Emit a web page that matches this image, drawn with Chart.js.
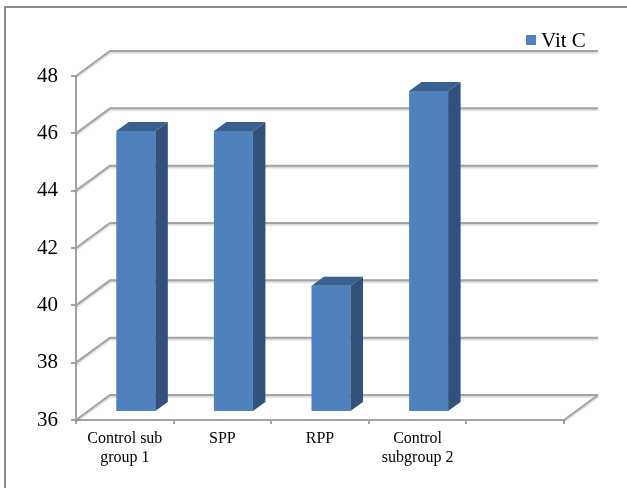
<!DOCTYPE html>
<html><head><meta charset="utf-8">
<script src="https://cdn.jsdelivr.net/npm/chart.js@4"></script>
<style>html,body{margin:0;padding:0;background:#fff;overflow:hidden}#wrap{position:relative;width:627px;height:488px}</style>
</head><body><div id="wrap"><canvas id="c" width="627" height="488"></canvas></div>
<script>
// ---- data ----
const categories = [["Control sub", "group 1"], "SPP", "RPP", ["Control", "subgroup 2"], ""];
const vitC = [45.8, 45.8, 40.4, 47.2, null];
const seriesName = "Vit C";
const yTickValues = [36, 38, 40, 42, 44, 46, 48];

// ---- style ----
const FONT = "'Liberation Serif', 'Times New Roman', 'DejaVu Serif', serif";
Chart.defaults.font.family = FONT;
const DEPTH = {dx: 34, dy: -25};      // wall depth
const BAR_OFF = {dx: 11, dy: -8};     // bar front face position inside depth
const BAR_DEPTH = {dx: 12.5, dy: -9}; // bar thickness in depth
const GRID = '#a3a3a3';
const FRONT = '#4f81bd', SIDE = '#32527c', TOP = '#3a6090';

const plugin3d = {
  id: 'threeD',
  beforeDraw(chart) {
    const ctx = chart.ctx;
    ctx.save();
    ctx.strokeStyle = '#8c8c8c';
    ctx.lineWidth = 2;
    ctx.strokeRect(5, 7, 700, 600);
    ctx.restore();
  },
  beforeDatasetsDraw(chart) {
    const {ctx, chartArea: a, scales: {y}} = chart;
    ctx.save();
    ctx.strokeStyle = GRID;
    ctx.lineWidth = 2;
    ctx.shadowColor = 'rgba(0,0,0,0.18)';
    ctx.shadowOffsetY = 1.5;
    ctx.shadowBlur = 1.5;
    ctx.lineJoin = 'miter';
    for (const v of yTickValues) {
      const py = y.getPixelForValue(v);
      ctx.beginPath();
      ctx.moveTo(a.left, py);
      ctx.lineTo(a.left + DEPTH.dx, py + DEPTH.dy);
      ctx.lineTo(a.right + DEPTH.dx, py + DEPTH.dy);
      ctx.stroke();
    }
    const pb = y.getPixelForValue(yTickValues[0]);
    ctx.beginPath();
    ctx.moveTo(a.right, pb);
    ctx.lineTo(a.right + DEPTH.dx, pb + DEPTH.dy);
    ctx.stroke();
    ctx.restore();
    ctx.save();
    ctx.translate(BAR_OFF.dx, BAR_OFF.dy);
  },
  afterDatasetsDraw(chart) {
    const ctx = chart.ctx;
    const meta = chart.getDatasetMeta(0);
    meta.data.forEach((bar, i) => {
      if (vitC[i] == null) return;
      const p = bar.getProps(['x', 'y', 'base', 'width'], true);
      const xl = p.x - p.width / 2, xr = p.x + p.width / 2;
      const yt = Math.min(p.y, p.base), yb = Math.max(p.y, p.base);
      const dx = BAR_DEPTH.dx, dy = BAR_DEPTH.dy;
      ctx.fillStyle = SIDE;
      ctx.beginPath();
      ctx.moveTo(xr, yt); ctx.lineTo(xr + dx, yt + dy); ctx.lineTo(xr + dx, yb + dy); ctx.lineTo(xr, yb);
      ctx.closePath(); ctx.fill();
      ctx.fillStyle = TOP;
      ctx.beginPath();
      ctx.moveTo(xl, yt); ctx.lineTo(xl + dx, yt + dy); ctx.lineTo(xr + dx, yt + dy); ctx.lineTo(xr, yt);
      ctx.closePath(); ctx.fill();
    });
    ctx.restore();
  },
  afterDraw(chart) {
    const ctx = chart.ctx;
    ctx.save();
    ctx.fillStyle = FRONT;
    ctx.fillRect(526, 35, 10, 10);
    ctx.fillStyle = '#000';
    ctx.font = '21px ' + FONT;
    ctx.textBaseline = 'middle';
    ctx.textAlign = 'left';
    ctx.fillText(chart.data.datasets[0].label, 541, 41);
    ctx.restore();
  }
};

new Chart(document.getElementById('c'), {
  type: 'bar',
  data: {
    labels: categories,
    datasets: [{
      label: seriesName,
      data: vitC,
      base: yTickValues[0],
      backgroundColor: FRONT,
      borderWidth: 0,
      barPercentage: 0.4,
      categoryPercentage: 1.0,
      clip: false
    }]
  },
  options: {
    responsive: false,
    devicePixelRatio: 1,
    animation: false,
    layout: {padding: {left: 0, top: 76, right: 63, bottom: 0}},
    plugins: {legend: {display: false}, tooltip: {enabled: false}},
    scales: {
      x: {
        grid: {drawOnChartArea: false, drawTicks: true, tickLength: 4, color: GRID, lineWidth: 2, offset: true},
        border: {display: true, color: GRID, width: 2},
        ticks: {color: '#000', font: {family: FONT, size: 16}, padding: 5, maxRotation: 0, autoSkip: false},
        afterFit(s) { s.height = 68; }
      },
      y: {
        min: yTickValues[0],
        max: yTickValues[yTickValues.length - 1],
        grid: {drawOnChartArea: false, drawTicks: true, tickLength: 5, color: GRID, lineWidth: 2},
        border: {display: true, color: GRID, width: 2},
        ticks: {stepSize: 2, color: '#000', font: {family: FONT, size: 21}, padding: 13},
        afterFit(s) { s.width = 76; }
      }
    }
  },
  plugins: [plugin3d]
});
</script></body></html>
